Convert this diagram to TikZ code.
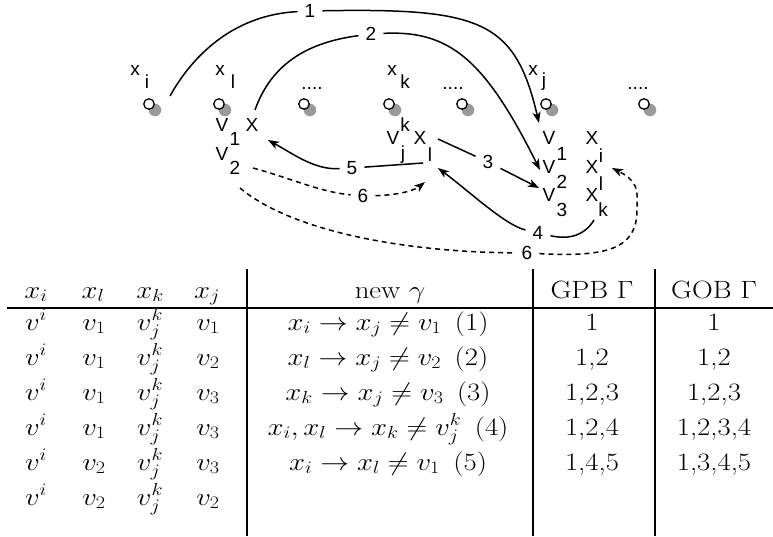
\RequirePackage{fix-cm}
\documentclass[tikz,border=0pt]{standalone}
\usepackage{fontspec}
\usepackage{graphicx}
\usetikzlibrary{arrows.meta}
\newfontfamily\hvfont{Liberation Sans}
\definecolor{dotgray}{HTML}{9A9A9A}
\newcommand\hsc[1]{\scalebox{1.15}[1]{#1}}
\begin{document}
\begin{tikzpicture}[x=1pt,y=-1pt,
  gl/.style={font=\hvfont\fontsize{19}{22}\selectfont, inner sep=0pt, anchor=center},
  elab/.style={font=\hvfont\fontsize{19}{22}\selectfont, inner sep=7pt, anchor=center},
  oc/.style={circle, draw=black, fill=white, line width=1.3pt, minimum size=10.5pt, inner sep=0pt},
  gc/.style={circle, fill=dotgray, minimum size=12.5pt, inner sep=0pt},
  ed/.style={line width=1.5pt},
  ar/.style={-{Stealth[length=11pt,width=8pt,inset=3pt]}},
  dsh/.style={dash pattern=on 5pt off 4pt},
  tc/.style={inner sep=0pt, anchor=base, font=\fontsize{25}{29}\selectfont},
  rule/.style={line width=2.4pt}
]
\useasboundingbox (0,0) rectangle (773,536);

% ---------- top: variable labels ----------
\node[gl] (xia) at (135,70) {x};  \node[gl] (xib) at (147,82) {i};
\node[gl] (xla) at (220,70) {x};  \node[gl] (xlb) at (233,82) {l};
\node[gl] (xka) at (392,70) {x};  \node[gl] (xkb) at (405,82) {k};
\node[gl] (xja) at (533,70) {x};  \node[gl] (xjb) at (544,82) {j};
\node[gl] (dta) at (312,88) {....};
\node[gl] (dtb) at (453,88) {....};
\node[gl] (dtc) at (638,88) {....};

% ---------- circles ----------
\foreach \n/\cx in {1/149,2/219,3/304,4/389,5/462,6/546,7/644}{
  \node[gc] (g\n) at (\cx+6,110) {};
  \node[oc] (c\n) at (\cx,104) {};
}

% ---------- values under x_l ----------
\node[gl] (lVa) at (222,125) {V}; \node[gl] (lVas) at (235,139) {1};
\node[gl] (lX)  at (252,125) {X};
\node[gl] (lVb) at (222,154) {V}; \node[gl] (lVbs) at (235,168) {2};

% ---------- values under x_k ----------
\node[gl] (kk) at (405,125) {k};
\node[gl] (kV) at (393,138) {V};
\node[gl] (kX) at (420,138) {X};
\node[gl] (kj) at (403,155) {j};
\node[gl] (kl) at (430,155) {l};

% ---------- values under x_j ----------
\node[gl] (jVa) at (549,138) {V}; \node[gl] (jVas) at (562,154) {1};
\node[gl] (jVb) at (549,167) {V}; \node[gl] (jVbs) at (562,182) {2};
\node[gl] (jVc) at (549,195) {V}; \node[gl] (jVcs) at (562,210) {3};

\node[gl] (Xi) at (592,138) {X}; \node[gl] (Xis) at (601,156) {i};
\node[gl] (Xl) at (592,167) {X}; \node[gl] (Xls) at (601,184) {l};
\node[gl] (Xk) at (592,195) {X}; \node[gl] (Xks) at (603,210) {k};

% ---------- edge labels ----------
\node[elab] (e1) at (310,11) {1};
\node[elab] (e2) at (371,34) {2};
\node[elab] (e3) at (488,162) {3};
\node[elab] (e4) at (538,233) {4};
\node[elab] (e5) at (352,168) {5};
\node[elab] (e6a) at (363,196) {6};
\node[elab] (e6b) at (527,253) {6};

% ---------- edges ----------
% 1
\draw[ed] ([xshift=21pt,yshift=8pt]c1.center) .. controls (190,60) and (230,15) .. (e1);
\draw[ed,ar] (e1) .. controls (480,8) and (515,20) .. ([xshift=-10pt,yshift=15pt]jVa.center);
% 2
\draw[ed] ([xshift=3pt,yshift=15pt]lX.center) .. controls (272,62) and (310,42) .. (e2);
\draw[ed,ar] (e2) .. controls (450,30) and (485,60) .. ([xshift=-9pt,yshift=-3pt]jVb.center);
% 3
\draw[ed] ([xshift=18pt,yshift=-1pt]kX.center) -- (e3);
\draw[ed,ar] (e3) -- ([xshift=-10pt,yshift=7pt]jVc.center);
% 4
\draw[ed] ([xshift=-9pt,yshift=-10pt]Xks.center) .. controls (585,235) and (570,240) .. (e4);
\draw[ed,ar] (e4) .. controls (505,225) and (470,192) .. ([xshift=8pt,yshift=-13pt]kl.center);
% 5
\draw[ed] ([xshift=-7pt,yshift=-8pt]kl.center) -- (e5);
\draw[ed,ar] (e5) .. controls (315,170) and (295,155) .. ([xshift=16pt,yshift=-15pt]lX.center);
% 6 (upper, dashed)
\draw[ed,dsh] ([xshift=18pt]lVbs.center) .. controls (290,178) and (320,192) .. (e6a);
\draw[ed,dsh,ar] (e6a) .. controls (400,195) and (415,190) .. ([xshift=-5pt,yshift=-27pt]kl.center);
% 6 (lower, dashed)
\draw[ed,dsh] ([xshift=5pt,yshift=-20pt]lVbs.center) .. controls (290,230) and (400,252) .. (e6b);
\draw[ed,dsh,ar] (e6b) .. controls (605,257) and (637,250) .. (637,210) -- (637,195)
   .. controls (637,183) and (628,176) .. ([xshift=20pt,yshift=-1pt]Xl.center);

% ---------- table ----------
\draw[rule] (7,308) -- (773,308);
\draw[rule] (247,269) -- (247,536);
\draw[rule] (533,269) -- (533,536);
\draw[rule] (655,269) -- (655,536);

\node[tc] (h1) at (36,298) {\hsc{$x_i$}};
\node[tc] (h2) at (93,298) {\hsc{$x_l$}};
\node[tc] (h3) at (150,298) {\hsc{$x_k$}};
\node[tc] (h4) at (207,298) {\hsc{$x_j$}};
\node[tc] (h5) at (390,298) {\hsc{new $\gamma$}};
\node[tc] (h6) at (592,298) {\hsc{GPB $\Gamma$}};
\node[tc] (h7) at (714,298) {\hsc{GOB $\Gamma$}};

\foreach \r/\yy/\b/\d/\ga/\gp/\go in {
  1/330/v_1/v_1/{x_i\rightarrow x_j\neq v_1\ \,(1)}/1/1,
  2/365/v_1/v_2/{x_l\rightarrow x_j\neq v_2\ \,(2)}/{1,2}/{1,2},
  3/400/v_1/v_3/{x_k\rightarrow x_j\neq v_3\ \,(3)}/{1,2,3}/{1,2,3},
  4/435/v_1/v_3/{x_i,x_l\rightarrow x_k\neq v_j^k\ \,(4)}/{1,2,4}/{1,2,3,4},
  5/470/v_2/v_3/{x_i\rightarrow x_l\neq v_1\ \,(5)}/{1,4,5}/{1,3,4,5}}{
  \node[tc] (r\r a) at (36,\yy) {\hsc{$v^i$}};
  \node[tc] (r\r b) at (94,\yy) {\hsc{$\b$}};
  \node[tc] (r\r c) at (150,\yy) {\hsc{$v_j^k$}};
  \node[tc] (r\r d) at (208,\yy) {\hsc{$\d$}};
  \node[tc] (r\r e) at (388,\yy) {\hsc{$\ga$}};
  \node[tc] (r\r f) at (592,\yy) {\hsc{\gp}};
  \node[tc] (r\r g) at (714,\yy) {\hsc{\go}};
}
\node[tc] (r6a) at (36,505) {\hsc{$v^i$}};
\node[tc] (r6b) at (94,505) {\hsc{$v_2$}};
\node[tc] (r6c) at (150,505) {\hsc{$v_j^k$}};
\node[tc] (r6d) at (208,505) {\hsc{$v_2$}};
\end{tikzpicture}
\end{document}
